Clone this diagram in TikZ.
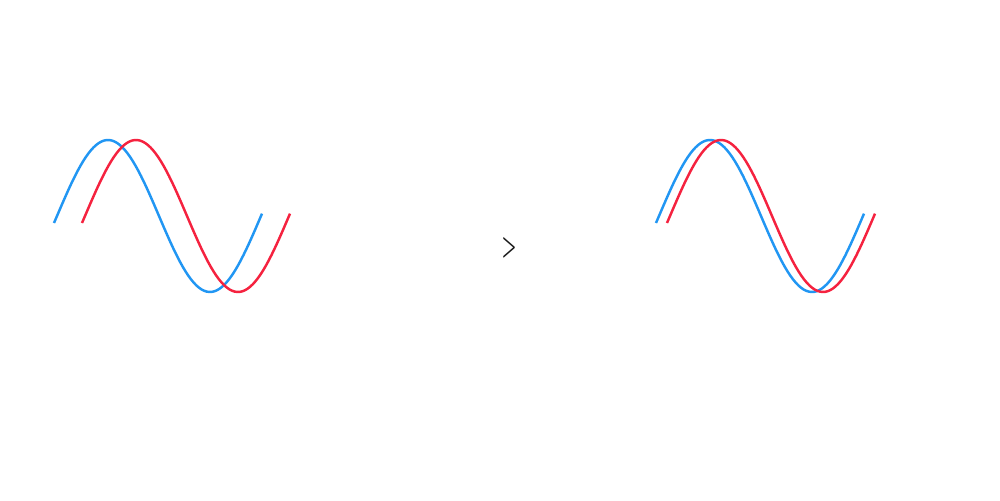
\documentclass[tikz,border=0pt]{standalone}
\usepackage{tikz}
\usetikzlibrary{positioning}
\definecolor{waveblue}{HTML}{2196F3}
\definecolor{wavered}{HTML}{F5223F}
\tikzset{wave/.style={line width=1.4pt, line join=round}}

\begin{document}
\begin{tikzpicture}[x=0.02cm, y=-0.02cm]
\useasboundingbox (0,0) rectangle (1000,500);
% blue and red wave pairs, out of phase (left) and nearly in phase (right)
\foreach \xo/\dx in {57/28, 659/11} {
  \draw[wave, waveblue] plot[domain=-3:205, samples=80] ({\xo+\x}, {216-76*sin(\x/204*360)});
  \draw[wave, wavered] plot[domain=-3:205, samples=80] ({\xo+\dx+\x}, {216-76*sin(\x/204*360)});
}
\node[font=\LARGE\sffamily\bfseries, text=black!90, xscale=0.55] (cmp) at (509,248) {>};
\end{tikzpicture}
\end{document}
